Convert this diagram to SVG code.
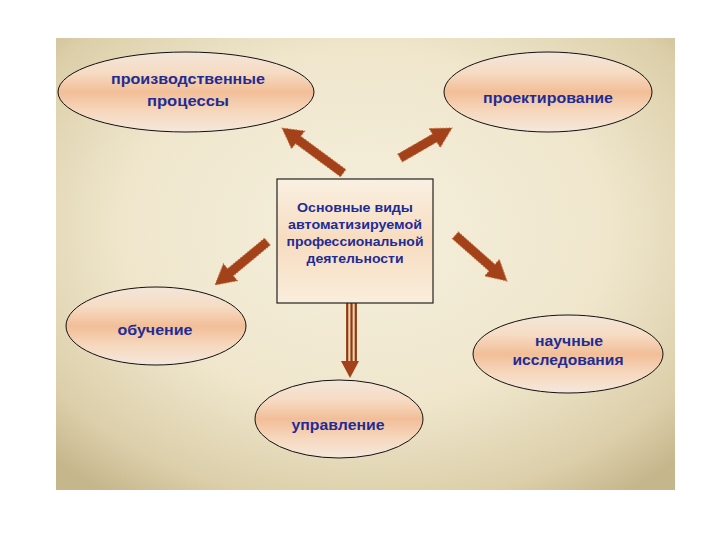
<svg xmlns="http://www.w3.org/2000/svg" width="720" height="540" viewBox="0 0 720 540">
<defs>
<radialGradient id="bg" cx="0.5" cy="0.42" r="0.72">
<stop offset="0" stop-color="#F5EFDD"/>
<stop offset="0.55" stop-color="#EFE6CC"/>
<stop offset="0.85" stop-color="#DCCFAA"/>
<stop offset="1" stop-color="#C6B68C"/>
</radialGradient>
<linearGradient id="ell" x1="0" y1="0" x2="0" y2="1">
<stop offset="0" stop-color="#F3E6DA"/>
<stop offset="0.25" stop-color="#F6DCC4"/>
<stop offset="0.5" stop-color="#F2BE98"/>
<stop offset="0.75" stop-color="#F6D8BE"/>
<stop offset="1" stop-color="#F4E8DC"/>
</linearGradient>
<linearGradient id="box" x1="0" y1="0" x2="0" y2="1">
<stop offset="0" stop-color="#FAF0E2"/>
<stop offset="0.5" stop-color="#F7DCC0"/>
<stop offset="1" stop-color="#FAEEDC"/>
</linearGradient>
</defs>
<style>
.ell{fill:url(#ell);stroke:#111;stroke-width:1}
.t{font-family:"Liberation Sans",Arial,sans-serif;font-weight:bold;fill:#1F2C94;text-anchor:middle;font-size:15px}
.tb{font-family:"Liberation Sans",Arial,sans-serif;font-weight:bold;fill:#1F2C94;text-anchor:middle;font-size:13px}
.a{fill:#A3411A;stroke:#C4703E;stroke-width:1;stroke-dasharray:1.5 1.5}
.sh{stroke:#8E3A12;stroke-width:2.2}
</style>
<rect x="0" y="0" width="720" height="540" fill="#FFFFFF"/>
<rect x="56" y="38" width="619" height="452" fill="url(#bg)"/>

<g id="connectors">
<g transform="translate(282,128) rotate(216.4)">
<path class="a" d="M-76,-4.5 L-20,-4.5 L-20,-11 L0,0 L-20,11 L-20,4.5 L-76,4.5 Z"/>
</g>
<g transform="translate(452,128) rotate(-30)">
<path class="a" d="M-60,-4.5 L-20,-4.5 L-20,-11 L0,0 L-20,11 L-20,4.5 L-60,4.5 Z"/>
</g>
<g transform="translate(215,285) rotate(140.4)">
<path class="a" d="M-68,-4.5 L-20,-4.5 L-20,-11 L0,0 L-20,11 L-20,4.5 L-68,4.5 Z"/>
</g>
<g transform="translate(507,281) rotate(41.5)">
<path class="a" d="M-69,-4.5 L-20,-4.5 L-20,-11 L0,0 L-20,11 L-20,4.5 L-69,4.5 Z"/>
</g>
<g id="down">
<rect x="346" y="303" width="11" height="59" fill="#F2D2B0"/>
<line class="sh" x1="347.2" y1="303" x2="347.2" y2="362"/>
<line class="sh" x1="351.5" y1="303" x2="351.5" y2="362"/>
<line class="sh" x1="355.8" y1="303" x2="355.8" y2="362"/>
<path d="M341,361 L359,361 L350,378 Z" fill="#A3411A"/>
</g>
</g>

<g id="n-center">
<rect x="277" y="179" width="156" height="124" fill="url(#box)" stroke="#222" stroke-width="1.2"/>
<text class="tb" x="355" y="212" textLength="116" lengthAdjust="spacingAndGlyphs">Основные  виды</text>
<text class="tb" x="355" y="229" textLength="134" lengthAdjust="spacingAndGlyphs">автоматизируемой</text>
<text class="tb" x="355" y="246" textLength="137" lengthAdjust="spacingAndGlyphs">профессиональной</text>
<text class="tb" x="355" y="263" textLength="97" lengthAdjust="spacingAndGlyphs">деятельности</text>
</g>

<g id="n-proizv">
<ellipse class="ell" cx="186" cy="92" rx="128" ry="40"/>
<text class="t" x="188" y="84" textLength="154" lengthAdjust="spacingAndGlyphs">производственные</text>
<text class="t" x="188" y="106" textLength="82" lengthAdjust="spacingAndGlyphs">процессы</text>
</g>

<g id="n-proekt">
<ellipse class="ell" cx="548" cy="92" rx="104" ry="40"/>
<text class="t" x="548" y="103" textLength="130" lengthAdjust="spacingAndGlyphs">проектирование</text>
</g>

<g id="n-obuch">
<ellipse class="ell" cx="156" cy="326" rx="90" ry="39"/>
<text class="t" x="155" y="335" textLength="75" lengthAdjust="spacingAndGlyphs">обучение</text>
</g>

<g id="n-nauch">
<ellipse class="ell" cx="568" cy="354" rx="95" ry="39"/>
<text class="t" x="569" y="346" textLength="68" lengthAdjust="spacingAndGlyphs">научные</text>
<text class="t" x="568" y="365" textLength="111" lengthAdjust="spacingAndGlyphs">исследования</text>
</g>

<g id="n-upr">
<ellipse class="ell" cx="339" cy="419" rx="84" ry="39"/>
<text class="t" x="338" y="430" textLength="93" lengthAdjust="spacingAndGlyphs">управление</text>
</g>
</svg>
